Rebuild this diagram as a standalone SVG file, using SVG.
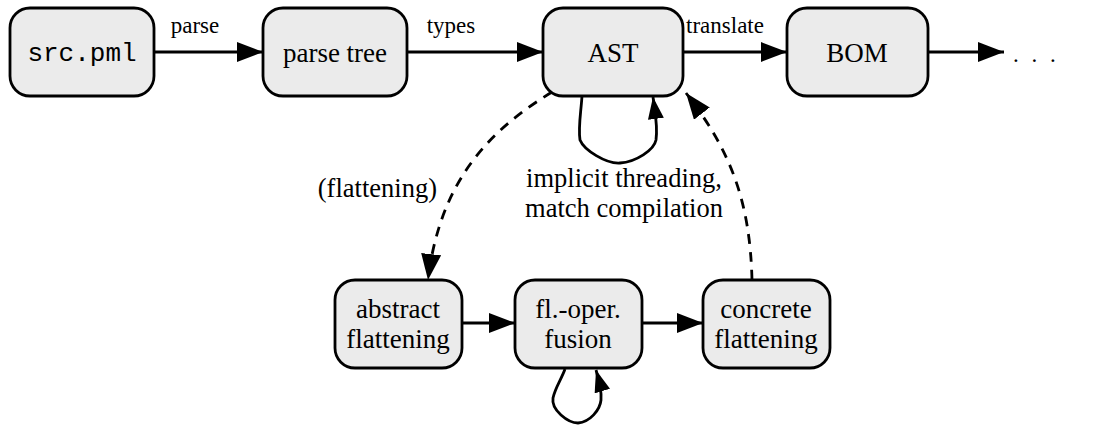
<svg xmlns="http://www.w3.org/2000/svg" width="1096" height="425" viewBox="0 0 1096 425">
<defs>
<marker id="ah" markerUnits="userSpaceOnUse" markerWidth="28" markerHeight="22" refX="26" refY="10" orient="auto">
<path d="M0,0 L26,10 L0,20 z" fill="#000"/>
</marker>
<marker id="ahs" markerUnits="userSpaceOnUse" markerWidth="24" markerHeight="18" refX="22" refY="8" orient="auto">
<path d="M0,0 L22,8 L0,16 z" fill="#000"/>
</marker>
<style>
.box{fill:#ebebeb;stroke:#000;stroke-width:2.8}
.t{font-family:"Liberation Serif","Times New Roman",serif;font-size:27px;fill:#000;text-anchor:middle}
.m{font-family:"Liberation Mono","Courier New",monospace;font-size:26px;fill:#000;text-anchor:middle}
.lbl{font-family:"Liberation Serif","Times New Roman",serif;font-size:23px;fill:#000}
.big{font-family:"Liberation Serif","Times New Roman",serif;font-size:26.5px;fill:#000}
.e{fill:none;stroke:#000;stroke-width:2.8}
.d{fill:none;stroke:#000;stroke-width:2.8;stroke-dasharray:10,8}
</style>
</defs>
<g id="connectors">
<line class="e" x1="154" y1="52" x2="263" y2="52" marker-end="url(#ah)"/>
<line class="e" x1="407" y1="52" x2="543" y2="52" marker-end="url(#ah)"/>
<line class="e" x1="683" y1="52" x2="787" y2="52" marker-end="url(#ah)"/>
<line class="e" x1="928" y1="52" x2="1004" y2="52" marker-end="url(#ah)"/>
<path class="e" d="M582,96 C581,112 578,128 580,140 C584,150 606,164 620,163 C636,162 654,150 656,140 C658,126 655,112 653,97" marker-end="url(#ahs)"/>
<path class="d" d="M552,92 C490,130 440,180 428,280" marker-end="url(#ah)"/>
<path class="d" d="M752,280 C750,200 730,150 686,93" marker-end="url(#ah)"/>
<line class="e" x1="462" y1="323" x2="515" y2="323" marker-end="url(#ah)"/>
<line class="e" x1="642" y1="323" x2="703" y2="323" marker-end="url(#ah)"/>
<path class="e" d="M565,369 C562,378 555,388 553,398 C551,410 568,423 578,423 C590,422 600,410 601,400 C602,390 599,380 596,370" marker-end="url(#ahs)"/>
<text class="lbl" x="195" y="33" text-anchor="middle">parse</text>
<text class="lbl" x="451" y="33" text-anchor="middle">types</text>
<text class="lbl" x="725" y="33" text-anchor="middle">translate</text>
<text class="big" x="437" y="197" text-anchor="end">(flattening)</text>
<text class="big" x="624" y="187" text-anchor="middle">implicit threading,</text>
<text class="big" x="624" y="217" text-anchor="middle">match compilation</text>
</g>
<g id="src"><rect class="box" x="10" y="8" width="144" height="88" rx="20"/><text class="m" x="82" y="61">src.pml</text></g>
<g id="parsetree"><rect class="box" x="263" y="8" width="144" height="88" rx="20"/><text class="t" x="335" y="62">parse tree</text></g>
<g id="ast"><rect class="box" x="543" y="8" width="140" height="88" rx="20"/><text class="t" x="613" y="62">AST</text></g>
<g id="bom"><rect class="box" x="787" y="8" width="141" height="88" rx="20"/><text class="t" x="857" y="62">BOM</text></g>
<g id="dots"><text class="lbl" x="1013" y="62" letter-spacing="3.5">. . .</text></g>
<g id="abstract"><rect class="box" x="335" y="280" width="127" height="88" rx="20"/><text class="t" x="398" y="318">abstract</text><text class="t" x="398" y="348">flattening</text></g>
<g id="fusion"><rect class="box" x="515" y="280" width="127" height="88" rx="20"/><text class="t" x="578" y="318">fl.-oper.</text><text class="t" x="578" y="348">fusion</text></g>
<g id="concrete"><rect class="box" x="703" y="280" width="127" height="88" rx="20"/><text class="t" x="766" y="318">concrete</text><text class="t" x="766" y="348">flattening</text></g>
</svg>
